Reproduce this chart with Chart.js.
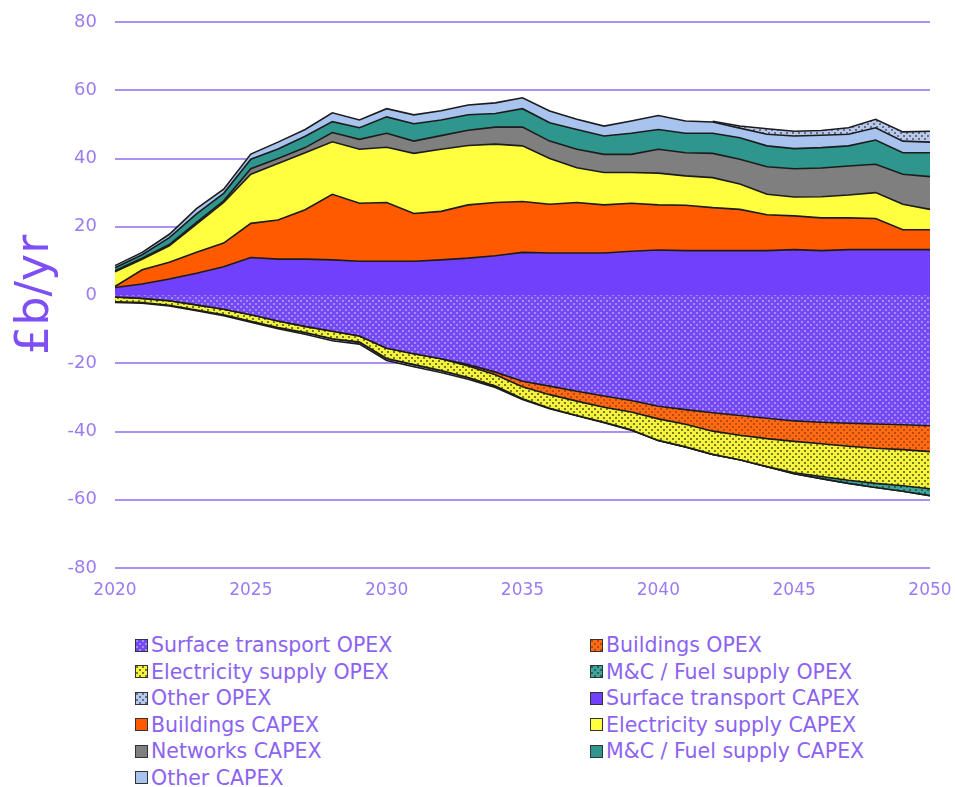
<!DOCTYPE html>
<html>
<head>
<meta charset="utf-8">
<script src="https://cdn.jsdelivr.net/npm/chart.js@4.4.1/dist/chart.umd.min.js"></script>
<style>
  body { margin: 0; background: #fff; font-family: 'DejaVu Sans', sans-serif; }
  #legend { display: grid; grid-template-columns: 455px 360px; margin: 22px 0 0 135px; }
  .item { height: 26.5px; display: flex; align-items: center; font-size: 20.5px; color: #8b63f0; white-space: nowrap; }
  .sw { width: 13px; height: 13px; border: 1.5px solid #333; margin-right: 3px; box-sizing: border-box; }
</style>
</head>
<body>
<canvas id="chart" width="955" height="610"></canvas>
<div id="legend"></div>
<script>
// years on the x axis
const years = [2020, 2021, 2022, 2023, 2024, 2025, 2026, 2027, 2028, 2029,
  2030, 2031, 2032, 2033, 2034, 2035, 2036, 2037, 2038, 2039,
  2040, 2041, 2042, 2043, 2044, 2045, 2046, 2047, 2048, 2049, 2050];

// CAPEX (positive), £b/yr
const stCapex = [2.2, 3.2, 4.7, 6.4, 8.3, 11.0, 10.5, 10.5, 10.3, 9.9, 9.9, 9.9, 10.3, 10.8, 11.5, 12.5,
  12.3, 12.3, 12.3, 12.8, 13.2, 13.0, 13.0, 13.0, 13.0, 13.3, 13.0, 13.3, 13.3, 13.3, 13.3];
const bCapex = [0.3, 4.2, 4.9, 6.1, 6.9, 10.0, 11.5, 14.5, 19.2, 17.0, 17.2, 14.0, 14.2, 15.6, 15.6, 14.9,
  14.3, 14.8, 14.1, 14.1, 13.2, 13.3, 12.6, 12.1, 10.5, 9.9, 9.6, 9.3, 9.1, 5.8, 5.8];
const eCapex = [4.3, 3.1, 4.8, 8.3, 11.9, 14.4, 16.5, 16.7, 15.4, 15.8, 16.2, 17.6, 18.2, 17.4, 17.1, 16.3,
  13.4, 10.2, 9.5, 9.0, 9.3, 8.6, 8.8, 7.4, 6.0, 5.5, 6.2, 6.7, 7.6, 7.5, 6.0];
const nCapex = [0.3, 0.3, 0.4, 0.5, 0.5, 1.6, 1.5, 1.5, 2.7, 2.9, 4.1, 3.6, 4.0, 4.5, 5.0, 5.5,
  5.1, 5.4, 5.3, 5.3, 7.0, 6.8, 7.1, 7.3, 8.1, 8.3, 8.4, 8.5, 8.3, 8.8, 9.6];
const mcCapex = [0.9, 1.0, 2.0, 2.5, 2.2, 2.8, 2.8, 3.3, 3.2, 3.4, 4.8, 5.1, 4.6, 4.5, 4.0, 5.4,
  5.4, 5.8, 5.4, 6.2, 5.8, 5.7, 5.9, 6.3, 6.1, 5.9, 6.0, 5.9, 7.1, 6.3, 7.0];
const oCapex = [0.6, 0.7, 1.0, 1.5, 1.2, 1.5, 2.0, 2.0, 2.6, 2.3, 2.4, 2.6, 2.7, 2.9, 3.1, 3.2,
  3.4, 3.0, 2.9, 3.6, 4.1, 3.6, 3.3, 2.8, 3.4, 3.7, 3.6, 3.4, 3.6, 3.4, 3.1];

// OPEX (mostly negative = savings), £b/yr
const stOpex = [-0.6, -1.0, -1.7, -2.9, -4.2, -5.8, -7.6, -9.2, -10.6, -12.0, -15.6, -17.2, -18.7, -20.4, -22.6, -25.3,
  -26.7, -28.2, -29.6, -30.9, -32.6, -33.6, -34.5, -35.3, -36.1, -36.9, -37.3, -37.6, -37.8, -38.0, -38.3];
const bOpex = [0, 0, 0, 0, 0, 0, 0, 0, 0, 0, 0, 0, 0, -0.4, -0.8, -1.6,
  -2.5, -2.9, -3.3, -3.4, -3.7, -4.3, -5.4, -5.8, -6.0, -6.0, -6.3, -6.7, -7.1, -7.3, -7.6];
const eOpex = [-1.4, -1.2, -1.3, -1.5, -1.6, -1.9, -1.9, -1.8, -2.2, -1.8, -3.0, -3.2, -3.4, -3.4, -3.3, -3.5,
  -4.0, -4.2, -4.4, -5.2, -6.3, -6.6, -6.8, -7.2, -8.2, -9.2, -9.6, -10.0, -10.3, -10.6, -10.9];
const mcOpex = [0, 0, 0, 0, 0, 0, 0, 0, 0, 0, 0, 0, 0, 0, 0, 0,
  0, 0, 0, 0, 0, 0, 0, 0, 0, -0.3, -0.6, -0.9, -1.2, -1.6, -2.0];
const otherOpex = [-0.2, -0.2, -0.2, -0.2, -0.3, -0.3, -0.4, -0.5, -0.6, -0.6, -0.6, -0.6, -0.6, -0.5, -0.4, -0.2,
  -0.1, -0.1, -0.1, -0.1, 0, 0, 0.2, 0.6, 1.6, 1.4, 1.4, 1.9, 2.5, 2.7, 3.2];

// dotted fill for the OPEX series
function dots(base, dot) {
  const c = document.createElement('canvas');
  c.width = 6; c.height = 6;
  const g = c.getContext('2d');
  g.fillStyle = base; g.fillRect(0, 0, 6, 6);
  g.fillStyle = dot; g.fillRect(0, 0, 2, 2); g.fillRect(3, 3, 2, 2);
  return c;
}
const ctx = document.getElementById('chart').getContext('2d');
const pat = {
  st: dots('#7448f2', '#a48af8'),
  b: dots('#ff6a12', '#b84a10'),
  e: dots('#f4f43c', '#7a7a28'),
  mc: dots('#3fa49a', '#1f6660'),
  o: dots('#b8c9f0', '#6a7080')
};
const fillOf = c => ctx.createPattern(c, 'repeat');

const line = '#1c1c1c';
function ds(label, data, bg, fill) {
  return { label: label, data: data, backgroundColor: bg, borderColor: line, borderWidth: 1.6,
    pointRadius: 0, tension: 0, fill: fill };
}

// negatives first, so the stacks stay separated by sign
const datasets = [
  ds('Surface transport OPEX', stOpex, fillOf(pat.st), 'origin'),
  ds('Buildings OPEX', bOpex, fillOf(pat.b), '-1'),
  ds('Electricity supply OPEX', eOpex, fillOf(pat.e), '-1'),
  ds('M&C / Fuel supply OPEX', mcOpex, fillOf(pat.mc), '-1'),
  ds('Other OPEX', otherOpex.map(v => v < 0 ? v : 0), fillOf(pat.o), '-1'),
  ds('Surface transport CAPEX', stCapex, '#7140fa', 'origin'),
  ds('Buildings CAPEX', bCapex, '#ff5a00', '-1'),
  ds('Electricity supply CAPEX', eCapex, '#ffff40', '-1'),
  ds('Networks CAPEX', nCapex, '#7f7f7f', '-1'),
  ds('M&C / Fuel supply CAPEX', mcCapex, '#2e968c', '-1'),
  ds('Other CAPEX', oCapex, '#a9c3ef', '-1'),
  ds('Other OPEX', otherOpex.map(v => v > 0 ? v : null), fillOf(pat.o), '-1')
];

const tickColor = '#9a7cf2';
new Chart(ctx, {
  type: 'line',
  data: { labels: years.map(String), datasets: datasets },
  options: {
    responsive: false,
    animation: false,
    layout: { padding: { top: 22, right: 25, left: 0, bottom: 0 } },
    plugins: { legend: { display: false }, tooltip: { enabled: false } },
    scales: {
      x: {
        grid: { display: false, drawTicks: false },
        border: { display: false },
        ticks: {
          autoSkip: false, maxRotation: 0, padding: 12, color: tickColor,
          font: { family: 'DejaVu Sans', size: 17 },
          callback: (v, i) => years[i] % 5 === 0 ? years[i] : ''
        },
        afterFit: s => { s.height = 42; s.paddingLeft = 0; s.paddingRight = 0; }
      },
      y: {
        stacked: true,
        min: -80, max: 80,
        ticks: { stepSize: 20, color: tickColor, padding: 18, font: { family: 'DejaVu Sans', size: 18 } },
        grid: { color: '#aa90f4', lineWidth: 2, drawTicks: false },
        border: { display: false },
        title: { display: true, text: '£b/yr', color: '#7d4ff4',
          font: { family: 'DejaVu Sans', size: 46 }, padding: { top: 8, bottom: 0 } },
        afterFit: s => { s.width = 115; s.paddingTop = 0; s.paddingBottom = 0; }
      }
    }
  }
});

// legend in two columns, in the original order
const legendOrder = [
  ['Surface transport OPEX', pat.st], ['Buildings OPEX', pat.b],
  ['Electricity supply OPEX', pat.e], ['M&C / Fuel supply OPEX', pat.mc],
  ['Other OPEX', pat.o], ['Surface transport CAPEX', '#7140fa'],
  ['Buildings CAPEX', '#ff5a00'], ['Electricity supply CAPEX', '#ffff40'],
  ['Networks CAPEX', '#7f7f7f'], ['M&C / Fuel supply CAPEX', '#2e968c'],
  ['Other CAPEX', '#a9c3ef']
];
const legend = document.getElementById('legend');
legendOrder.forEach(([name, fill]) => {
  const item = document.createElement('div');
  item.className = 'item';
  const sw = document.createElement('span');
  sw.className = 'sw';
  if (typeof fill === 'string') sw.style.background = fill;
  else sw.style.backgroundImage = 'url(' + fill.toDataURL() + ')';
  item.appendChild(sw);
  item.appendChild(document.createTextNode(name));
  legend.appendChild(item);
});
</script>
</body>
</html>
